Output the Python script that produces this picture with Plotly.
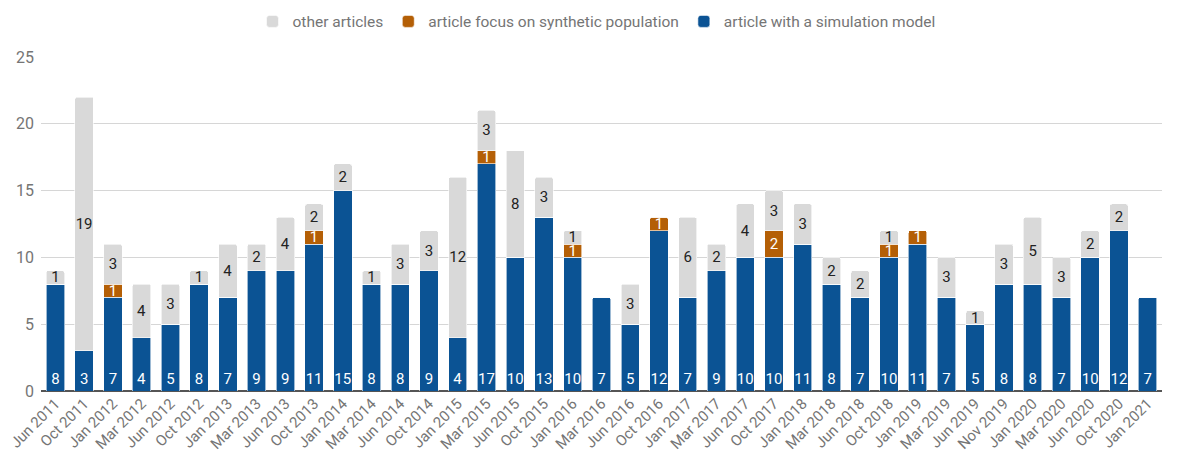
import plotly.graph_objects as go

months = ['Jun 2011', 'Oct 2011', 'Jan 2012', 'Mar 2012', 'Jun 2012', 'Oct 2012',
          'Jan 2013', 'Mar 2013', 'Jun 2013', 'Oct 2013', 'Jan 2014', 'Mar 2014',
          'Jun 2014', 'Oct 2014', 'Jan 2015', 'Mar 2015', 'Jun 2015', 'Oct 2015',
          'Jan 2016', 'Mar 2016', 'Jun 2016', 'Oct 2016', 'Jan 2017', 'Mar 2017',
          'Jun 2017', 'Oct 2017', 'Jan 2018', 'Mar 2018', 'Jun 2018', 'Oct 2018',
          'Jan 2019', 'Mar 2019', 'Jun 2019', 'Nov 2019', 'Jan 2020', 'Mar 2020',
          'Jun 2020', 'Oct 2020', 'Jan 2021']

simulation = [8, 3, 7, 4, 5, 8, 7, 9, 9, 11, 15, 8, 8, 9, 4, 17, 10, 13, 10, 7,
              5, 12, 7, 9, 10, 10, 11, 8, 7, 10, 11, 7, 5, 8, 8, 7, 10, 12, 7]
synthetic = [0, 0, 1, 0, 0, 0, 0, 0, 0, 1, 0, 0, 0, 0, 0, 1, 0, 0, 1, 0,
             0, 1, 0, 0, 0, 2, 0, 0, 0, 1, 1, 0, 0, 0, 0, 0, 0, 0, 0]
other = [1, 19, 3, 4, 3, 1, 4, 2, 4, 2, 2, 1, 3, 3, 12, 3, 8, 3, 1, 0,
         3, 0, 6, 2, 4, 3, 3, 2, 2, 1, 0, 3, 1, 3, 5, 3, 2, 2, 0]

def labels(vals):
    return [str(v) if v else '' for v in vals]

font_name = 'Roboto, Arial, sans-serif'
line = dict(color='white', width=0.6)

fig = go.Figure()
fig.add_trace(go.Bar(x=months, y=simulation, name='article with a simulation model',
                     marker=dict(color='#0b5394', line=line),
                     text=labels(simulation), textposition='inside', insidetextanchor='start',
                     textangle=0,
                     textfont=dict(color='white', size=15, family=font_name)))
fig.add_trace(go.Bar(x=months, y=synthetic, name='article focus on synthetic population',
                     marker=dict(color='#b45f06', line=line),
                     text=labels(synthetic), textposition='inside', insidetextanchor='middle',
                     textangle=0,
                     textfont=dict(color='white', size=15, family=font_name)))
fig.add_trace(go.Bar(x=months, y=other, name='other articles',
                     marker=dict(color='#d9d9d9', line=line),
                     text=labels(other), textposition='inside', insidetextanchor='middle',
                     textangle=0,
                     textfont=dict(color='#222222', size=15, family=font_name)))

fig.update_layout(
    width=1177, height=460,
    barmode='stack', bargap=0.36, barcornerradius=2,
    uniformtext=dict(minsize=15, mode='show'),
    paper_bgcolor='white', plot_bgcolor='white',
    margin=dict(l=33, r=23, t=49, b=77, autoexpand=False),
    font=dict(family=font_name, color='#757575', size=15),
    showlegend=True,
    legend=dict(orientation='h', x=0.5, xanchor='center', xref='container',
                y=0.97, yanchor='middle', yref='container',
                traceorder='reversed', font=dict(size=15.5, color='#757575'),
                itemwidth=30),
    xaxis=dict(tickangle=-45, showgrid=False, ticks='', automargin=False,
               tickfont=dict(size=15, color='#757575')),
    yaxis=dict(range=[0, 25], dtick=5, showgrid=True, gridcolor='#d6d6d6', automargin=False,
               zeroline=True, zerolinecolor='#555555', zerolinewidth=2,
               tickfont=dict(size=16, color='#757575'), ticklabelstandoff=6),
)

fig.write_html("out.html")
